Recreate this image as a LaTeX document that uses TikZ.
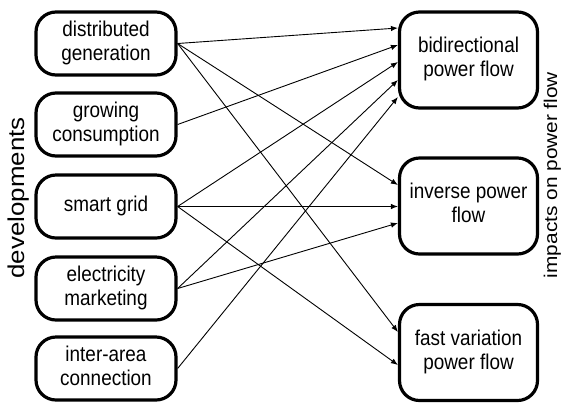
\documentclass[tikz,border=0pt]{standalone}
\usepackage{fontspec}
\usepackage{graphicx}
\setmainfont{Liberation Sans}
\usetikzlibrary{arrows.meta,calc}
% box captions: centred lines, glyphs a little taller than wide
\newcommand\boxtext[1]{\scalebox{1}[1.13]{\begin{tabular}{@{}c@{}}#1\end{tabular}}}
% side captions: stretched along the (rotated) text direction
\newcommand\sidetext[1]{\scalebox{1.13}[1]{#1}}
\begin{document}
\begin{tikzpicture}[x=1bp,y=-1bp,
  devbox/.style={draw,line width=3.2bp,rounded corners=20bp,
    minimum width=140bp,minimum height=63bp,inner sep=0pt,align=center,
    font=\fontsize{19}{21.2}\selectfont},
  flowbox/.style={devbox,minimum width=138bp,minimum height=96bp},
  link/.style={line width=0.9bp,-{Latex[length=7bp,width=5.5bp]}},
  sidelabel/.style={rotate=90,anchor=base,inner sep=0pt}]
\useasboundingbox (0,0) rectangle (562,403);

% developments
\node[devbox] (dg) at (106,43.5)  {\boxtext{distributed\\generation}};
\node[devbox] (gc) at (106,124.5) {\boxtext{growing\\consumption}};
\node[devbox] (sg) at (106,206.5) {\boxtext{smart grid}};
\node[devbox] (em) at (106,288.5) {\boxtext{electricity\\marketing}};
\node[devbox] (ia) at (106,368.5) {\boxtext{inter-area\\connection}};

% impacts on power flow
\node[flowbox] (bi) at (468.5,60)    {\boxtext{bidirectional\\power flow}};
\node[flowbox] (ip) at (468.5,206)   {\boxtext{inverse power\\flow}};
\node[flowbox] (fv) at (468.5,352.5) {\boxtext{fast variation\\power flow}};

% side captions
\node[sidelabel,font=\fontsize{23}{28}\selectfont] (devlabel) at (24,198) {\sidetext{developments}};
\node[sidelabel,font=\fontsize{18.5}{24}\selectfont] (implabel) at (557,175) {\sidetext{impacts on power flow}};

% links into bidirectional power flow
\draw[link] (dg.east) -- ($(bi.west)+(0,-32)$);
\draw[link] (gc.east) -- ($(bi.west)+(0,-15)$);
\draw[link] (sg.east) -- ($(bi.west)+(0,2)$);
\draw[link] (em.east) -- ($(bi.west)+(0,20)$);
\draw[link] (ia.east) -- ($(bi.west)+(0,37)$);

% links into inverse power flow
\draw[link] (dg.east) -- ($(ip.west)+(0,-21)$);
\draw[link] (sg.east) -- ($(ip.west)+(0,0.5)$);
\draw[link] (em.east) -- ($(ip.west)+(0,17)$);

% links into fast variation power flow
\draw[link] (dg.east) -- ($(fv.west)+(0,-20.5)$);
\draw[link] (sg.east) -- ($(fv.west)+(0,12.5)$);
\end{tikzpicture}
\end{document}
